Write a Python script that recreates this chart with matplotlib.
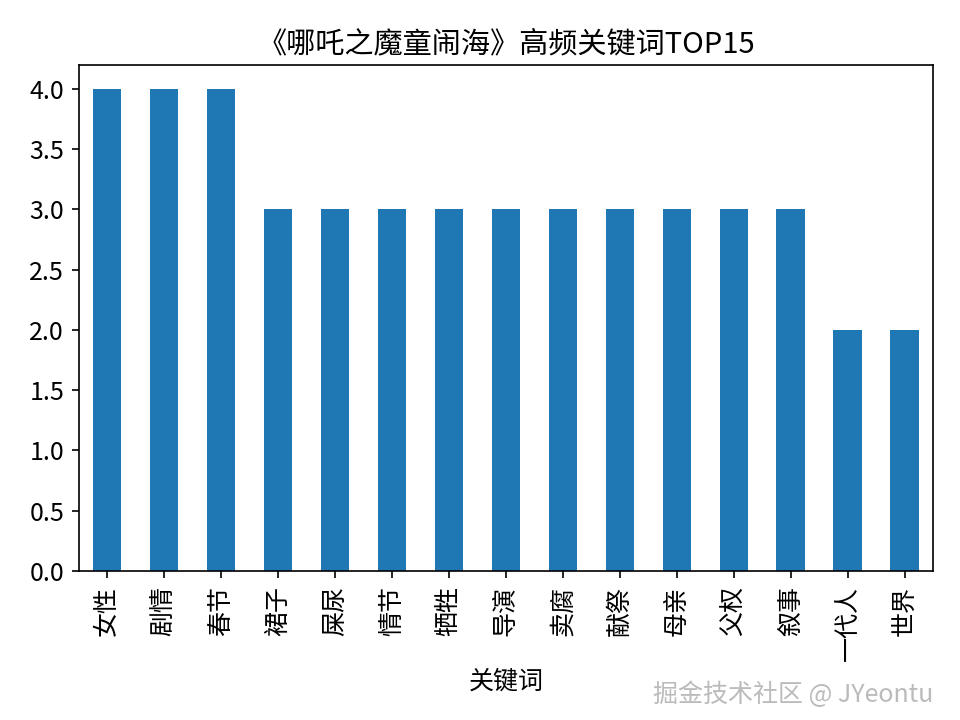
import matplotlib
matplotlib.use('Agg')
import matplotlib.pyplot as plt
import pandas as pd

plt.rcParams['font.family'] = ['Noto Sans CJK SC', 'DejaVu Sans']
plt.rcParams['axes.unicode_minus'] = False
plt.rcParams['font.size'] = 12

# 关键词与词频
keywords = ['女性', '剧情', '春节', '裙子', '屎尿', '情节', '牺牲', '导演',
            '卖腐', '献祭', '母亲', '父权', '叙事', '一代人', '世界']
counts = [4, 4, 4, 3, 3, 3, 3, 3, 3, 3, 3, 3, 3, 2, 2]

s = pd.Series(counts, index=keywords)

fig, ax = plt.subplots(figsize=(6.4, 4.8), dpi=150)
s.plot(kind='bar', ax=ax, color='#1f77b4')
ax.set_title('《哪吒之魔童闹海》高频关键词TOP15', fontsize=14)
ax.set_xlabel('关键词')
plt.xticks(rotation=90)

fig.subplots_adjust(left=0.082, right=0.972, top=0.910, bottom=0.207)
fig.text(0.972, 0.035, '掘金技术社区 @ JYeontu', ha='right', va='center',
         color='#bbbbbb', fontsize=12)
plt.savefig('out.png')
